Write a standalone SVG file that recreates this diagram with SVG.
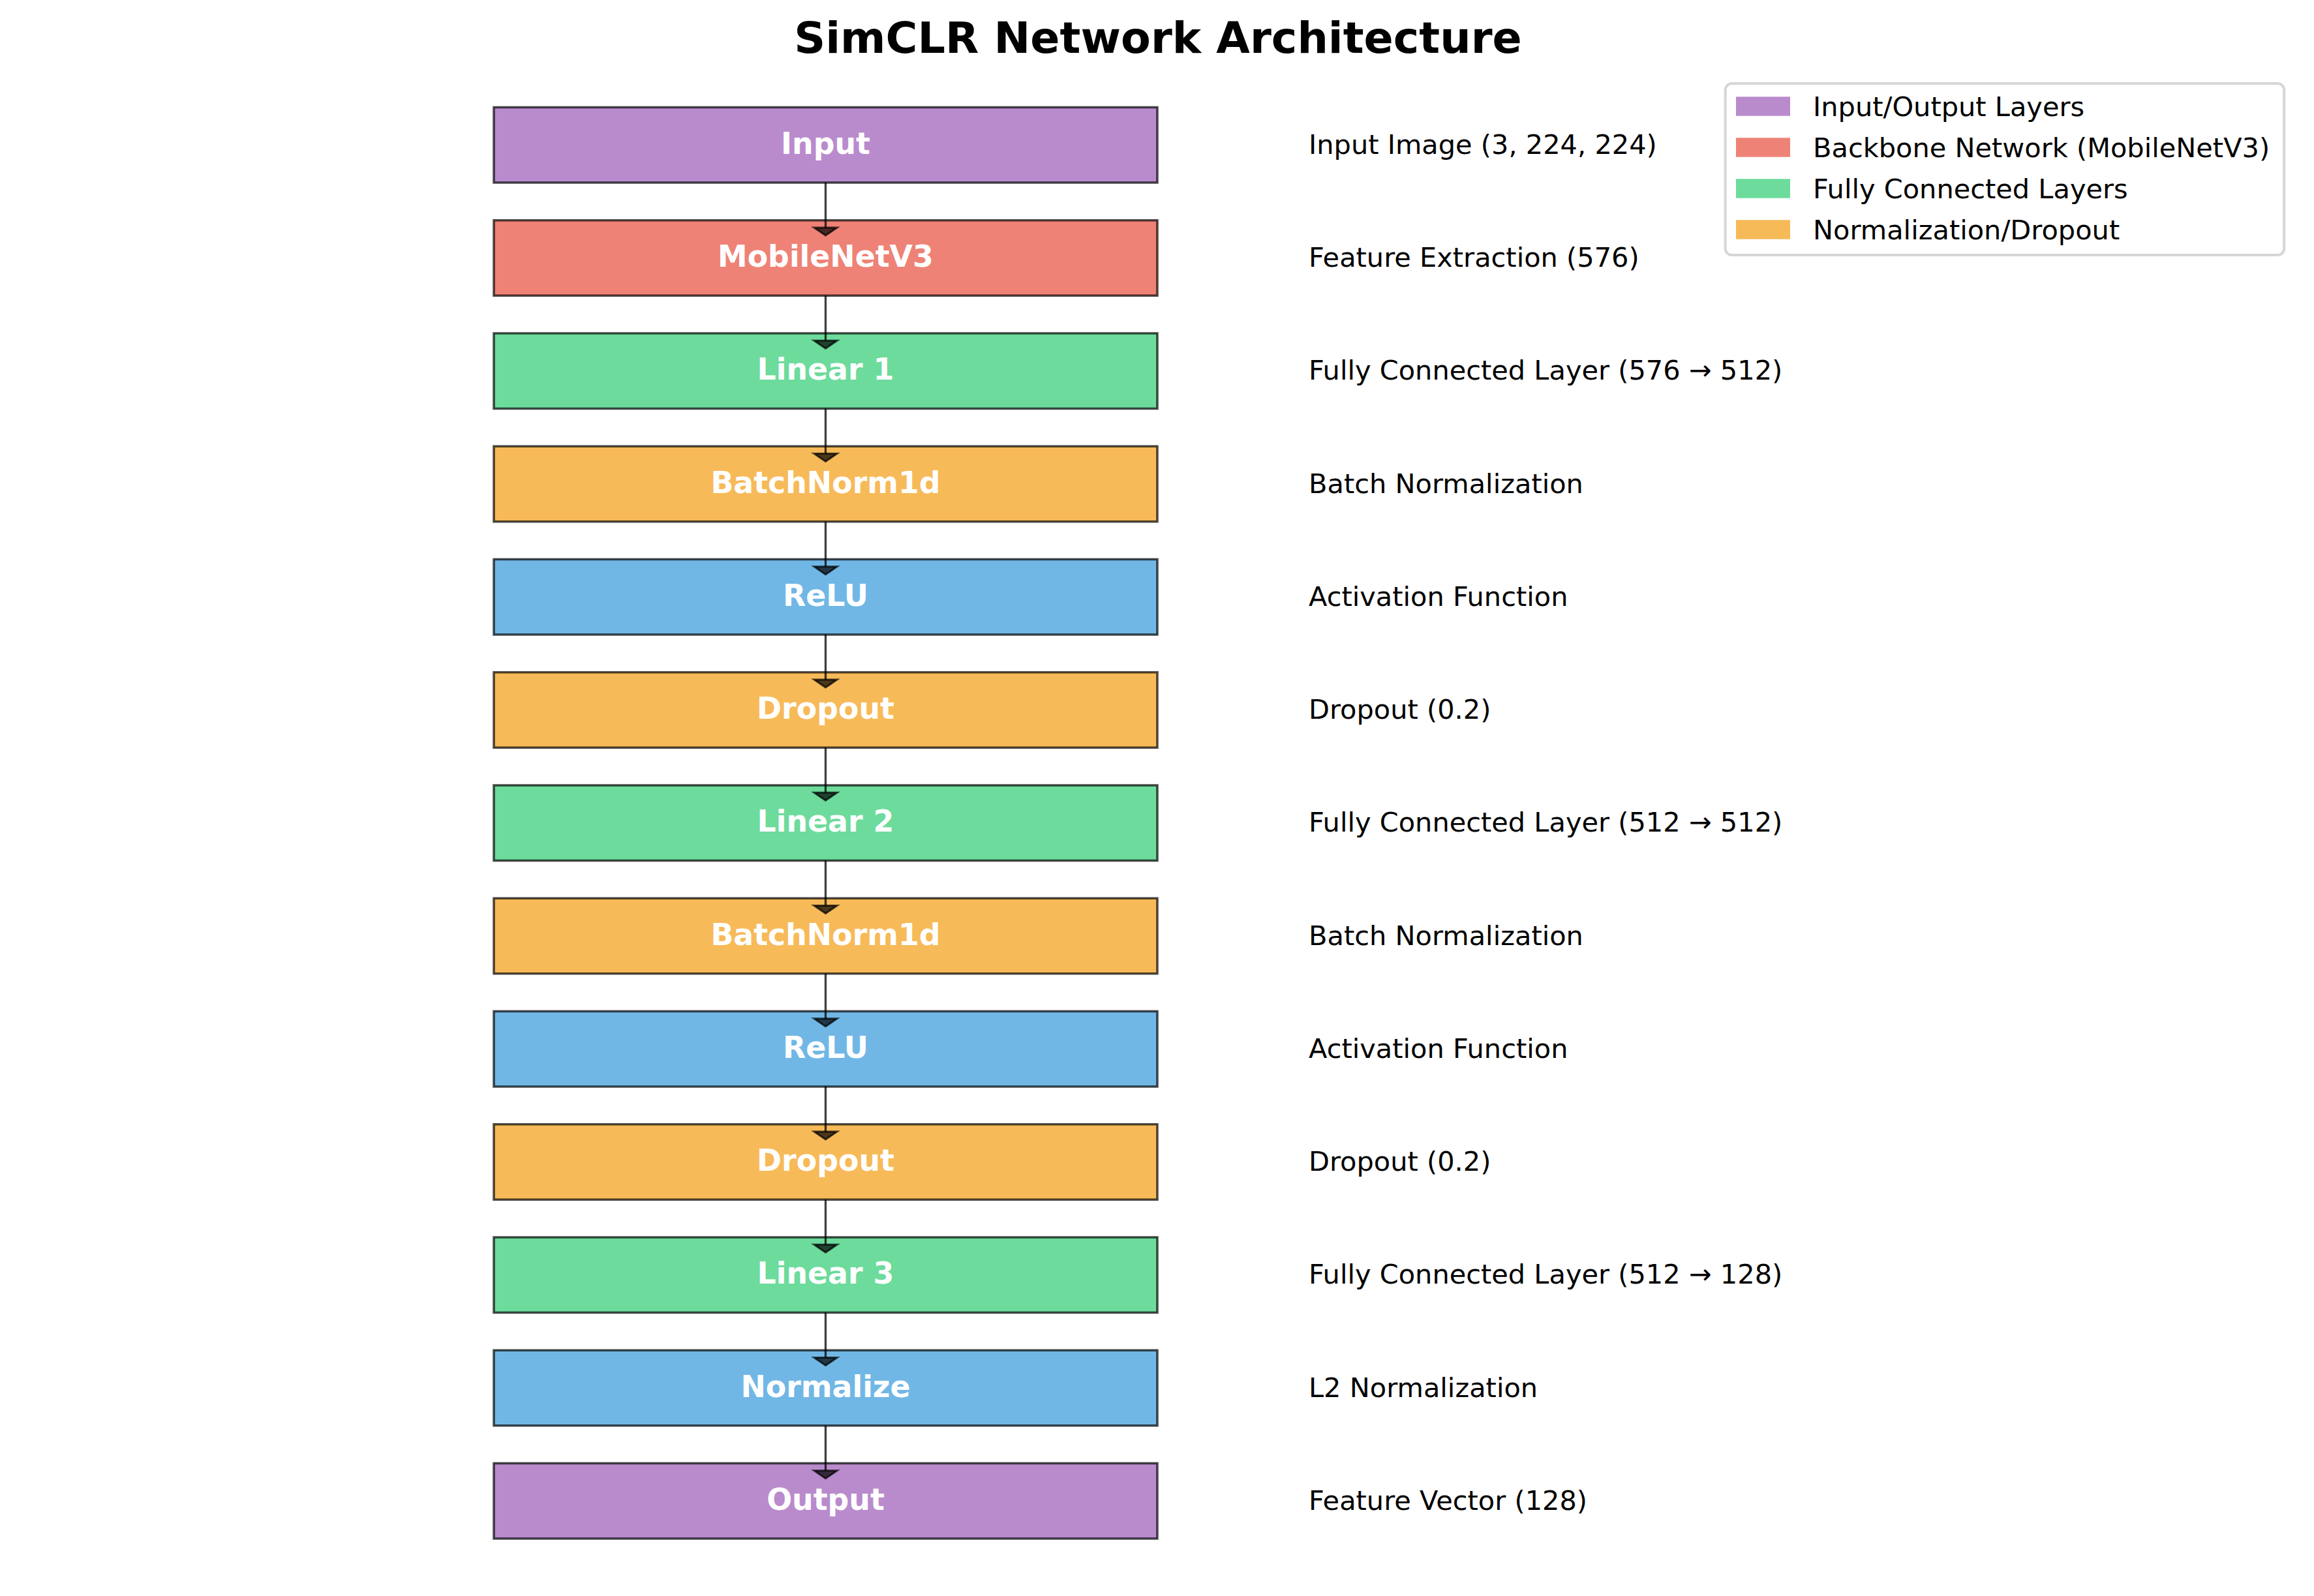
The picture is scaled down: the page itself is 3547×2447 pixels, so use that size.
<svg xmlns="http://www.w3.org/2000/svg" width="3547" height="2447" viewBox="0 0 3547 2447">
<defs>
<style>
.box{stroke:#000;stroke-opacity:0.7;stroke-width:3.5}
.io{fill:#b98bcc}.bb{fill:#ee8276}.fc{fill:#6ddb9c}.nd{fill:#f7ba59}.ac{fill:#71b7e6}
.lbl{font-family:"DejaVu Sans","Liberation Sans",sans-serif;font-weight:bold;font-size:45.8px;fill:#fff;text-anchor:middle}
.desc{font-family:"DejaVu Sans","Liberation Sans",sans-serif;font-size:41.5px;fill:#000}
.title{font-family:"DejaVu Sans","Liberation Sans",sans-serif;font-weight:bold;font-size:66.7px;fill:#000;text-anchor:middle}
.conn line{stroke:#000;stroke-opacity:0.75;stroke-width:3.3}
.conn polygon{fill:#000;fill-opacity:0.7;stroke:#000;stroke-opacity:0.7;stroke-width:3;stroke-linejoin:miter}
</style>
</defs>
<rect width="3547" height="2447" fill="#fff"/>
<text class="title" x="1775" y="81">SimCLR Network Architecture</text>

<g id="n0"><rect class="box io" x="757" y="164.5" width="1017" height="115.5"/><text class="lbl" x="1265.5" y="235.75">Input</text><text class="desc" x="2006" y="235.75">Input Image (3, 224, 224)</text></g>
<g id="n1"><rect class="box bb" x="757" y="337.75" width="1017" height="115.5"/><text class="lbl" x="1265.5" y="409">MobileNetV3</text><text class="desc" x="2006" y="409">Feature Extraction (576)</text></g>
<g id="n2"><rect class="box fc" x="757" y="511" width="1017" height="115.5"/><text class="lbl" x="1265.5" y="582.25">Linear 1</text><text class="desc" x="2006" y="582.25">Fully Connected Layer (576 → 512)</text></g>
<g id="n3"><rect class="box nd" x="757" y="684.25" width="1017" height="115.5"/><text class="lbl" x="1265.5" y="755.5">BatchNorm1d</text><text class="desc" x="2006" y="755.5">Batch Normalization</text></g>
<g id="n4"><rect class="box ac" x="757" y="857.5" width="1017" height="115.5"/><text class="lbl" x="1265.5" y="928.75">ReLU</text><text class="desc" x="2006" y="928.75">Activation Function</text></g>
<g id="n5"><rect class="box nd" x="757" y="1030.75" width="1017" height="115.5"/><text class="lbl" x="1265.5" y="1102">Dropout</text><text class="desc" x="2006" y="1102">Dropout (0.2)</text></g>
<g id="n6"><rect class="box fc" x="757" y="1204" width="1017" height="115.5"/><text class="lbl" x="1265.5" y="1275.25">Linear 2</text><text class="desc" x="2006" y="1275.25">Fully Connected Layer (512 → 512)</text></g>
<g id="n7"><rect class="box nd" x="757" y="1377.25" width="1017" height="115.5"/><text class="lbl" x="1265.5" y="1448.5">BatchNorm1d</text><text class="desc" x="2006" y="1448.5">Batch Normalization</text></g>
<g id="n8"><rect class="box ac" x="757" y="1550.5" width="1017" height="115.5"/><text class="lbl" x="1265.5" y="1621.75">ReLU</text><text class="desc" x="2006" y="1621.75">Activation Function</text></g>
<g id="n9"><rect class="box nd" x="757" y="1723.75" width="1017" height="115.5"/><text class="lbl" x="1265.5" y="1795">Dropout</text><text class="desc" x="2006" y="1795">Dropout (0.2)</text></g>
<g id="n10"><rect class="box fc" x="757" y="1897" width="1017" height="115.5"/><text class="lbl" x="1265.5" y="1968.25">Linear 3</text><text class="desc" x="2006" y="1968.25">Fully Connected Layer (512 → 128)</text></g>
<g id="n11"><rect class="box ac" x="757" y="2070.25" width="1017" height="115.5"/><text class="lbl" x="1265.5" y="2141.5">Normalize</text><text class="desc" x="2006" y="2141.5">L2 Normalization</text></g>
<g id="n12"><rect class="box io" x="757" y="2243.5" width="1017" height="115.5"/><text class="lbl" x="1265.5" y="2314.75">Output</text><text class="desc" x="2006" y="2314.75">Feature Vector (128)</text></g>

<g id="connectors" class="conn">
<line x1="1265.5" y1="280" x2="1265.5" y2="349"/><polygon points="1248,349 1283,349 1265.5,361"/>
<line x1="1265.5" y1="453.25" x2="1265.5" y2="522.25"/><polygon points="1248,522.25 1283,522.25 1265.5,534.25"/>
<line x1="1265.5" y1="626.5" x2="1265.5" y2="695.5"/><polygon points="1248,695.5 1283,695.5 1265.5,707.5"/>
<line x1="1265.5" y1="799.75" x2="1265.5" y2="868.75"/><polygon points="1248,868.75 1283,868.75 1265.5,880.75"/>
<line x1="1265.5" y1="973" x2="1265.5" y2="1042"/><polygon points="1248,1042 1283,1042 1265.5,1054"/>
<line x1="1265.5" y1="1146.25" x2="1265.5" y2="1215.25"/><polygon points="1248,1215.25 1283,1215.25 1265.5,1227.25"/>
<line x1="1265.5" y1="1319.5" x2="1265.5" y2="1388.5"/><polygon points="1248,1388.5 1283,1388.5 1265.5,1400.5"/>
<line x1="1265.5" y1="1492.75" x2="1265.5" y2="1561.75"/><polygon points="1248,1561.75 1283,1561.75 1265.5,1573.75"/>
<line x1="1265.5" y1="1666" x2="1265.5" y2="1735"/><polygon points="1248,1735 1283,1735 1265.5,1747"/>
<line x1="1265.5" y1="1839.25" x2="1265.5" y2="1908.25"/><polygon points="1248,1908.25 1283,1908.25 1265.5,1920.25"/>
<line x1="1265.5" y1="2012.5" x2="1265.5" y2="2081.5"/><polygon points="1248,2081.5 1283,2081.5 1265.5,2093.5"/>
<line x1="1265.5" y1="2185.75" x2="1265.5" y2="2254.75"/><polygon points="1248,2254.75 1283,2254.75 1265.5,2266.75"/>
</g>

<g id="legend">
<rect x="2644.7" y="128" width="856.5" height="263" rx="10" ry="10" fill="#fff" fill-opacity="0.8" stroke="#d6d6d6" stroke-width="4"/>
<rect class="io" x="2661" y="148.3" width="83" height="29.4"/>
<rect class="bb" x="2661" y="211.3" width="83" height="29.4"/>
<rect class="fc" x="2661" y="274.3" width="83" height="29.4"/>
<rect class="nd" x="2661" y="337.3" width="83" height="29.4"/>
<text class="desc" x="2779" y="178.3">Input/Output Layers</text>
<text class="desc" x="2779" y="241.3">Backbone Network (MobileNetV3)</text>
<text class="desc" x="2779" y="304.3">Fully Connected Layers</text>
<text class="desc" x="2779" y="367.3">Normalization/Dropout</text>
</g>
</svg>
